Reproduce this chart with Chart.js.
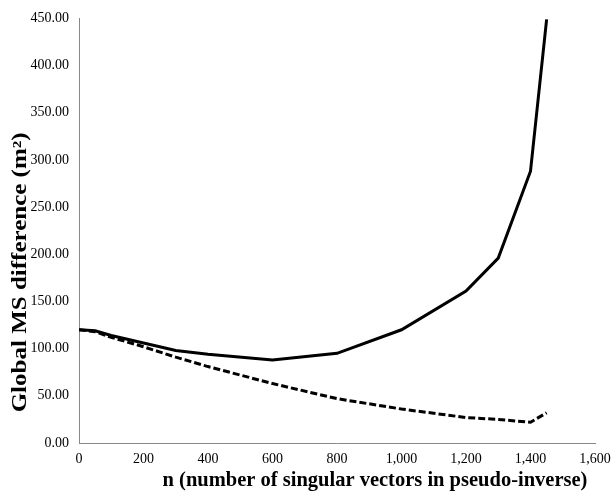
<!DOCTYPE html>
<html>
<head>
<meta charset="utf-8">
<script src="https://cdn.jsdelivr.net/npm/chart.js@4/dist/chart.umd.min.js"></script>
<style>
  html, body { margin: 0; padding: 0; background: #fff; }
  #wrap { width: 614px; height: 493px; }
</style>
</head>
<body>
<div id="wrap"><canvas id="myChart" width="614" height="493"></canvas></div>
<script>
// n values (number of singular vectors) and the two curves
const nValues = [0, 50, 100, 200, 300, 400, 600, 800, 1000, 1200, 1300, 1400, 1450];
const solidSeries = [120, 119, 114, 106, 98, 94, 88, 95, 120, 161, 196, 288, 449];
const dashedSeries = [120, 118, 112, 102, 91, 81, 63, 47, 36, 27, 25, 22, 32];

const xTitle = 'n (number of singular vectors in pseudo-inverse)';
const yTitle = 'Global MS difference (m\u00B2)';

const toPoints = (ys) => nValues.map((n, i) => ({x: n, y: ys[i]}));

const serif = '"Liberation Serif", "Times New Roman", serif';
const ctx = document.getElementById('myChart');

// axis titles drawn by hand: the original sits them off-centre and stretched
const axisTitles = {
    id: 'axisTitles',
    afterDraw(chart) {
        const c = chart.ctx;
        const area = chart.chartArea;
        c.save();
        c.fillStyle = '#000';
        c.font = 'bold 20.5px ' + serif;
        c.textAlign = 'center';
        c.textBaseline = 'middle';
        c.fillText(xTitle, area.right - 220, 481);
        c.font = 'bold 20px ' + serif;
        c.translate(21, area.top + 254);
        c.rotate(-Math.PI / 2);
        c.scale(1.25, 1);
        c.fillText(yTitle, 0, 0);
        c.restore();
    }
};

new Chart(ctx, {
    type: 'line',
    data: {
        datasets: [{
            label: 'solid',
            data: toPoints(solidSeries),
            borderColor: '#000',
            borderWidth: 3,
            pointRadius: 0,
            tension: 0
        }, {
            label: 'dashed',
            data: toPoints(dashedSeries),
            borderColor: '#000',
            borderWidth: 3,
            borderDash: [7, 3],
            pointRadius: 0,
            tension: 0
        }]
    },
    options: {
        responsive: false,
        animation: false,
        layout: { padding: { top: 9, right: 0, left: 0, bottom: 0 } },
        plugins: { legend: { display: false }, tooltip: { enabled: false } },
        scales: {
            x: {
                type: 'linear',
                min: 0, max: 1600,
                grid: { drawOnChartArea: false, drawTicks: false },
                border: { display: true, color: '#888', width: 1 },
                ticks: {
                    stepSize: 200,
                    color: '#000',
                    padding: 8,
                    maxRotation: 0,
                    font: { family: serif, size: 14 },
                    callback: v => v.toLocaleString('en-US')
                },
                afterFit: s => { s.height = 50; s.paddingRight = 19; }
            },
            y: {
                min: 0, max: 450,
                grid: { drawOnChartArea: false, drawTicks: false },
                border: { display: true, color: '#888', width: 1 },
                ticks: {
                    stepSize: 50,
                    color: '#000',
                    padding: 10,
                    font: { family: serif, size: 14 },
                    callback: v => v.toFixed(2)
                },
                afterFit: s => { s.width = 79; }
            }
        }
    },
    plugins: [axisTitles]
});
</script>
</body>
</html>
